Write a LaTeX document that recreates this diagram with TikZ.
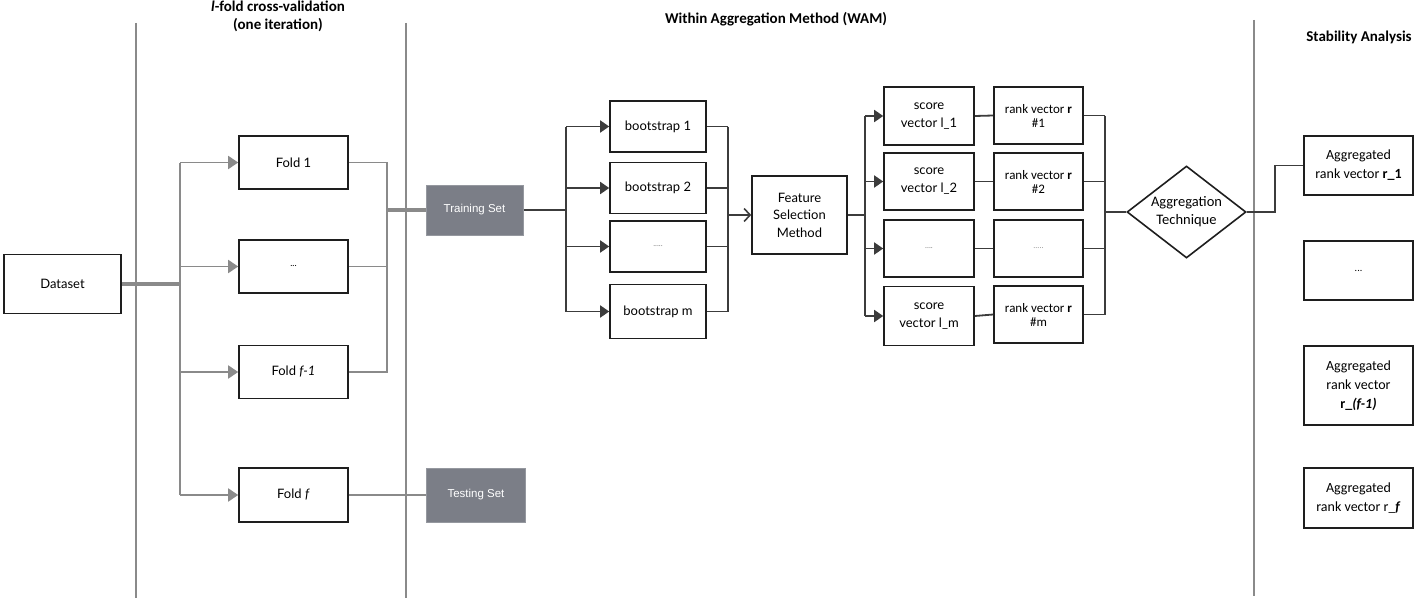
\documentclass[tikz,border=0pt]{standalone}
\usepackage{fontspec}
\setmainfont{Lato}
\newfontfamily\calfont{Carlito}
\newfontfamily\arialfont{Liberation Sans}
\usetikzlibrary{shapes.geometric,arrows.meta}
\definecolor{glin}{HTML}{8A8A8A}
\definecolor{dlin}{HTML}{3C3C3C}
\definecolor{bord}{HTML}{1E1E1E}
\definecolor{setfill}{HTML}{7B7E87}
\definecolor{dotc}{HTML}{8A8A8A}
\tikzset{
  box/.style={draw=bord, line width=1.6pt, fill=white, inner sep=0pt, align=center, font=\fontsize{13}{18}\selectfont},
  setbox/.style={draw=setfill!80!white, line width=1pt, fill=setfill, text=white, inner sep=0pt, align=center, font=\arialfont\fontsize{11.5}{14}\selectfont},
  rankbox/.style={box, font=\calfont\fontsize{13}{14}\selectfont},
  aggbox/.style={box, font=\calfont\fontsize{14}{19}\selectfont},
  gline/.style={draw=glin, line width=1.8pt},
  gthick/.style={draw=glin, line width=3.6pt},
  dline/.style={draw=dlin, line width=1.8pt},
  garrow/.style={gline, -{Triangle[length=10pt,width=13pt]}},
  darrow/.style={dline, -{Triangle[length=9pt,width=12pt]}},
  openarrow/.style={dline, -{Straight Barb[length=6pt,width=13pt,line width=1.6pt]}},
  divider/.style={draw=glin, line width=1.8pt},
  ttl/.style={font=\calfont\bfseries\fontsize{15}{17.5}\selectfont, align=center, inner sep=0pt},
  dots/.style={text=dotc, font=\fontsize{9}{10}\selectfont}
}
\begin{document}
\begin{tikzpicture}[x=1pt,y=-1pt]
\useasboundingbox (0,0) rectangle (1416,602);
% dividers
\draw[divider] (136,23) -- (136,598);
\draw[divider] (406,23) -- (406,598);
\draw[divider] (1254,20) -- (1254,596);
% titles
\node[ttl] (t1) at (278,16.5) {\textit{l}-fold cross-validation\\(one iteration)};
\node[ttl] (t2) at (776,19) {Within Aggregation Method (WAM)};
\node[ttl] (t3) at (1359,37.5) {Stability Analysis};
% boxes
\node[box, minimum width=117pt, minimum height=59pt] (dataset) at (62.5,284) {Dataset};
\node[box, minimum width=109pt, minimum height=53pt] (fold1) at (293.5,162.5) {Fold 1};
\node[box, minimum width=109pt, minimum height=53pt] (folddots) at (293.5,266.5) {\fontsize{9}{10}\selectfont ...};
\node[box, minimum width=109pt, minimum height=53pt] (foldf1) at (293.5,372) {Fold \textit{f-1}};
\node[box, minimum width=109pt, minimum height=54pt] (foldf) at (293.5,495) {Fold \textit{f}};
\node[setbox, minimum width=97pt, minimum height=50pt] (train) at (474.5,210) {Training Set};
\node[setbox, minimum width=99pt, minimum height=54pt] (test) at (476,495) {Testing Set};
\node[box, minimum width=96pt, minimum height=51pt] (b1) at (658,126.5) {bootstrap 1};
\node[box, minimum width=96pt, minimum height=51pt] (b2) at (658,188) {bootstrap 2};
\node[box, minimum width=96pt, minimum height=51pt] (bd) at (658,246.5) {\textcolor{dotc}{\fontsize{8}{9}\selectfont .....}};
\node[box, minimum width=96pt, minimum height=54pt] (bm) at (658,311.5) {bootstrap m};
\node[box, minimum width=95pt, minimum height=78pt, font=\fontsize{13}{17.5}\selectfont] (fs) at (799.5,215) {Feature\\Selection\\Method};
\node[box, minimum width=90pt, minimum height=58pt] (s1) at (929,116) {score\\vector l\_1};
\node[box, minimum width=90pt, minimum height=57pt] (s2) at (929,181.5) {score\\vector l\_2};
\node[box, minimum width=90pt, minimum height=57pt] (sd) at (929,248.5) {\textcolor{dotc}{\fontsize{8}{9}\selectfont ....}};
\node[box, minimum width=90pt, minimum height=59pt] (sm) at (929,316) {score\\vector l\_m};
\node[rankbox, minimum width=89pt, minimum height=57pt] (r1) at (1038.5,115.5) {rank vector \textbf{r}\\\#1};
\node[rankbox, minimum width=89pt, minimum height=57pt] (r2) at (1038.5,181.5) {rank vector \textbf{r}\\\#2};
\node[rankbox, minimum width=89pt, minimum height=57pt] (rd) at (1038.5,248.5) {\textcolor{dotc}{\fontsize{8}{9}\selectfont .....}};
\node[rankbox, minimum width=89pt, minimum height=57pt] (rm) at (1038.5,314.5) {rank vector \textbf{r}\\\#m};
\node[diamond, aspect=1.3, draw=bord, line width=1.6pt, fill=white, inner sep=0pt, minimum width=119pt, minimum height=92pt, align=center, font=\calfont\fontsize{14.5}{18}\selectfont] (agg) at (1186.5,212) {Aggregation\\Technique};
\node[aggbox, minimum width=109pt, minimum height=59pt] (ag1) at (1358.5,165.5) {Aggregated\\rank vector \textbf{r\_1}};
\node[aggbox, minimum width=109pt, minimum height=59pt] (ag2) at (1358.5,270.5) {\fontsize{10}{11}\selectfont ...};
\node[aggbox, minimum width=109pt, minimum height=79pt] (ag3) at (1358.5,385.5) {Aggregated\\rank vector\\\textbf{r\_\textit{(f-1)}}};
\node[aggbox, minimum width=109pt, minimum height=60pt] (ag4) at (1358.5,498) {Aggregated\\rank vector r\_\textbf{\textit{f}}};
% junction coordinates
\coordinate (jA) at (180,284);
\coordinate (jA1) at (180,162.5);
\coordinate (jA2) at (180,266.5);
\coordinate (jA3) at (180,372);
\coordinate (jA4) at (180,495);
\coordinate (jB1) at (387,162.5);
\coordinate (jB2) at (387,266.5);
\coordinate (jB3) at (387,372);
\coordinate (jB) at (387,210);
\coordinate (jC) at (566,210);
\coordinate (jC1) at (566,126.5);
\coordinate (jC2) at (566,188);
\coordinate (jC3) at (566,246.5);
\coordinate (jC4) at (566,311.5);
\coordinate (jD) at (728,215);
\coordinate (jD1) at (728,126.5);
\coordinate (jD2) at (728,188);
\coordinate (jD3) at (728,246.5);
\coordinate (jD4) at (728,311.5);
\coordinate (jE) at (865,215);
\coordinate (jE1) at (865,116);
\coordinate (jE2) at (865,181.5);
\coordinate (jE3) at (865,248.5);
\coordinate (jE4) at (865,316);
\coordinate (jF) at (1105,212);
\coordinate (jF1) at (1105,115.5);
\coordinate (jF2) at (1105,181.5);
\coordinate (jF3) at (1105,248.5);
\coordinate (jF4) at (1105,314.5);
\coordinate (jG) at (1275,212);
\coordinate (jG1) at (1275,165.5);
% cross-validation connectors
\draw[gthick] (dataset.east) -- (jA);
\draw[gline] (jA1) -- (jA4);
\draw[garrow] (jA1) -- (fold1.west);
\draw[garrow] (jA2) -- (folddots.west);
\draw[garrow] (jA3) -- (foldf1.west);
\draw[garrow] (jA4) -- (foldf.west);
\draw[gline] (fold1.east) -- (jB1) -- (jB3) -- (foldf1.east);
\draw[gline] (folddots.east) -- (jB2);
\draw[gthick] (jB) -- (train.west);
\draw[gline] (foldf.east) -- (test.west);
% WAM connectors
\draw[dline] (train.east) -- (jC);
\draw[dline] (jC1) -- (jC4);
\draw[darrow] (jC1) -- (b1.west);
\draw[darrow] (jC2) -- (b2.west);
\draw[darrow] (jC3) -- (bd.west);
\draw[darrow] (jC4) -- (bm.west);
\draw[dline] (b1.east) -- (jD1);
\draw[dline] (b2.east) -- (jD2);
\draw[dline] (bd.east) -- (jD3);
\draw[dline] (bm.east) -- (jD4);
\draw[dline] (jD1) -- (jD4);
\draw[openarrow] (jD) -- (fs.west);
\draw[dline] (fs.east) -- (jE);
\draw[dline] (jE1) -- (jE4);
\draw[darrow] (jE1) -- (s1.west);
\draw[darrow] (jE2) -- (s2.west);
\draw[darrow] (jE3) -- (sd.west);
\draw[darrow] (jE4) -- (sm.west);
\draw[dline] (s1.east) -- (r1.west);
\draw[dline] (s2.east) -- (r2.west);
\draw[dline] (sd.east) -- (rd.west);
\draw[dline] (sm.east) -- (rm.west);
\draw[dline] (r1.east) -- (jF1);
\draw[dline] (r2.east) -- (jF2);
\draw[dline] (rd.east) -- (jF3);
\draw[dline] (rm.east) -- (jF4);
\draw[dline] (jF1) -- (jF4);
\draw[dline] (jF) -- (agg.west);
\draw[dline] (agg.east) -- (jG) -- (jG1) -- (ag1.west);
\end{tikzpicture}
\end{document}
